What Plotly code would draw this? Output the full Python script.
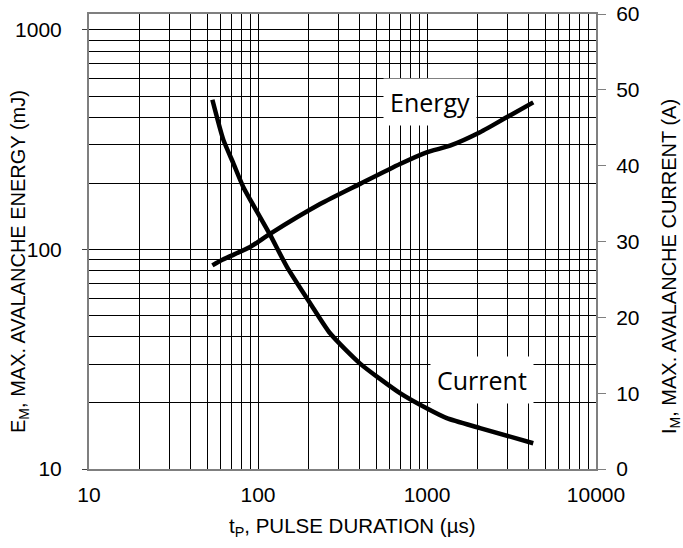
import plotly.graph_objects as go

# Data
energy_t = [53.7, 62.0, 89.8, 117.8, 233, 402, 692, 995, 1368, 2060, 2960, 4253]
energy_mj = [84.6, 90.0, 102.6, 117.8, 161, 199, 245, 277, 297, 342, 400, 468]

current_t = [53.7, 62.4, 71.5, 81.8, 117.8, 148, 203, 267, 402, 692, 995, 1309, 2060, 4253]
current_a = [48.7, 43.4, 40.3, 37.2, 30.9, 26.7, 21.9, 17.9, 13.9, 10.0, 8.0, 6.7, 5.4, 3.4]

x_major = [10, 100, 1000, 10000]
x_minor = [m * d for d in (10, 100, 1000) for m in range(2, 10)]
y_major = [10, 100, 1000]
y_minor = [m * d for d in (10, 100) for m in range(2, 10)]
y2_ticks = [0, 10, 20, 30, 40, 50, 60]

FONT = "Liberation Sans, Arial, sans-serif"
tick_font = dict(family=FONT, size=21, color="black")
ytitle_font = dict(family=FONT, size=20, color="black")
xtitle_font = dict(family=FONT, size=20.5, color="black")
label_font = dict(family="Open Sans, Noto Sans, sans-serif", size=25, color="black")

# plot area in pixels
L, R, T, B = 89, 596, 14, 469

fig = go.Figure()
fig.add_trace(go.Scatter(x=energy_t, y=energy_mj, mode="lines",
                         line=dict(color="black", width=4.5, shape="spline", smoothing=0.6),
                         yaxis="y", showlegend=False))
fig.add_trace(go.Scatter(x=current_t, y=current_a, mode="lines",
                         line=dict(color="black", width=4.5, shape="spline", smoothing=0.6),
                         yaxis="y2", showlegend=False))


def px(x, y):
    return (x - L) / (R - L), (B - y) / (B - T)


lt = px(19, 262)
rt = px(670, 267)
bt = px(352, 527)

fig.update_layout(
    width=683, height=548,
    margin=dict(l=L, r=683 - R, t=T, b=548 - B, autoexpand=False),
    plot_bgcolor="white", paper_bgcolor="white",
    xaxis=dict(type="log", range=[1, 4], automargin=False,
               tickmode="array", tickvals=x_major, ticktext=[str(v) for v in x_major],
               showgrid=True, gridcolor="black", gridwidth=1,
               minor=dict(tickmode="array", tickvals=x_minor, showgrid=True,
                          gridcolor="black", gridwidth=1, ticks=""),
               showline=True, linecolor="#7f7f7f", linewidth=2, mirror=True,
               ticks="outside", ticklen=6, tickcolor="rgba(0,0,0,0)",
               tickfont=tick_font, zeroline=False),
    yaxis=dict(type="log", range=[1, 3.0727], automargin=False,
               tickmode="array", tickvals=y_major, ticktext=[str(v) for v in y_major],
               showgrid=True, gridcolor="black", gridwidth=1,
               minor=dict(tickmode="array", tickvals=y_minor, showgrid=True,
                          gridcolor="black", gridwidth=1, ticks=""),
               showline=True, linecolor="#7f7f7f", linewidth=2,
               ticks="outside", ticklen=5, tickcolor="#404040", tickfont=tick_font,
               ticklabelstandoff=16, zeroline=False),
    yaxis2=dict(overlaying="y", side="right", range=[0, 60], automargin=False,
                tickmode="array", tickvals=y2_ticks, ticktext=[str(v) for v in y2_ticks],
                showgrid=False, showline=True, linecolor="#7f7f7f", linewidth=2,
                ticks="outside", ticklen=8, tickcolor="#7f7f7f", tickfont=tick_font,
                ticklabelstandoff=6, zeroline=False),
    annotations=[
        dict(x=3.018, y=2.671, xref="x", yref="y", text="Energy", showarrow=False,
             font=label_font, bgcolor="white", borderpad=6),
        dict(x=3.325, y=11.7, xref="x", yref="y2", text="Current", showarrow=False,
             font=label_font, bgcolor="white", borderpad=6),
        dict(x=lt[0], y=lt[1], xref="paper", yref="paper",
             text="E<sub>M</sub>, MAX. AVALANCHE ENERGY (mJ)",
             showarrow=False, textangle=-90, font=ytitle_font,
             xanchor="center", yanchor="middle"),
        dict(x=rt[0], y=rt[1], xref="paper", yref="paper",
             text="I<sub>M</sub>, MAX. AVALANCHE CURRENT (A)",
             showarrow=False, textangle=-90, font=ytitle_font,
             xanchor="center", yanchor="middle"),
        dict(x=bt[0], y=bt[1], xref="paper", yref="paper",
             text="t<sub>P</sub>, PULSE DURATION (µs)",
             showarrow=False, font=xtitle_font, xanchor="center", yanchor="middle"),
    ],
)

fig.write_html("out.html")
